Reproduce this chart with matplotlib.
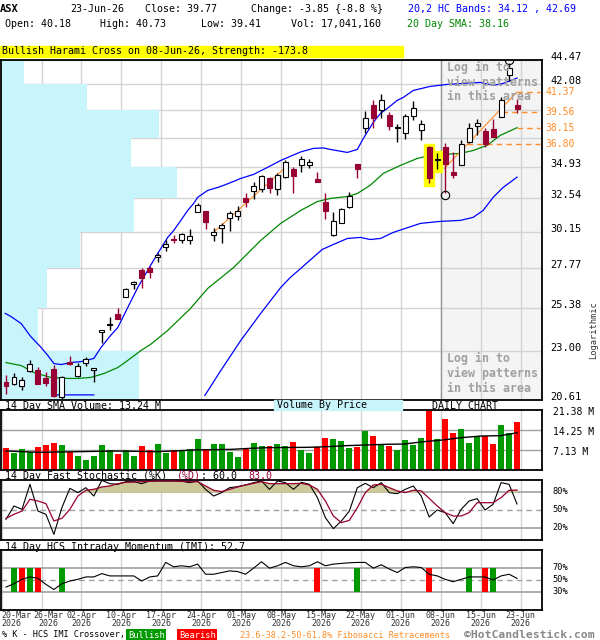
import matplotlib
matplotlib.use("Agg")
import matplotlib.pyplot as plt
import matplotlib.transforms as mtransforms
from matplotlib.patches import Rectangle
import numpy as np

plt.rcParams['font.family'] = ['DejaVu Sans Mono']

# ---------------- data ----------------
opens = [21.49, 21.35, 21.25, 22.03, 22.08, 21.64, 22.13, 20.77, 22.48, 21.78,
         22.43, 22.08, 24.01, 24.42, 25.01, 25.99, 26.77, 27.63, 27.81, 28.51,
         29.10, 29.67, 29.63, 29.63, 31.50, 31.57, 29.90, 30.38, 31.08, 31.22,
         32.51, 33.03, 33.18, 34.02, 33.18, 34.10, 34.72, 35.04, 35.04, 33.94,
         32.22, 29.90, 30.73, 31.86, 35.11, 38.09, 40.13, 39.68, 39.23, 38.14,
         37.66, 39.14, 37.92, 36.49, 35.47, 36.49, 34.48, 35.04, 36.91, 38.27,
         37.84, 38.01, 39.05, 42.95, 40.18]
highs = [21.83, 21.93, 21.69, 22.54, 22.23, 21.98, 22.33, 21.78, 22.79, 22.43,
         22.69, 22.18, 24.17, 24.84, 25.35, 26.58, 26.95, 27.75, 27.88, 28.71,
         29.63, 29.90, 30.04, 30.31, 32.15, 31.57, 30.38, 30.73, 31.57, 31.93,
         32.88, 33.71, 34.25, 34.10, 34.41, 35.43, 34.88, 35.76, 35.51, 34.48,
         32.88, 31.50, 31.79, 32.96, 35.11, 39.59, 40.59, 41.14, 39.50, 38.44,
         39.32, 40.49, 38.79, 36.57, 36.00, 36.82, 36.08, 37.07, 38.53, 38.88,
         38.09, 38.88, 40.86, 44.13, 40.73]
lows = [20.91, 21.30, 21.06, 21.98, 21.35, 21.25, 20.73, 20.59, 22.33, 21.69,
        22.28, 21.49, 23.42, 24.17, 24.78, 25.99, 26.52, 26.58, 27.19, 28.13,
        28.90, 29.37, 29.43, 29.30, 31.50, 30.31, 29.50, 29.37, 30.18, 30.94,
        31.86, 32.44, 32.96, 32.88, 32.74, 34.02, 32.88, 34.48, 34.80, 33.71,
        31.01, 29.84, 30.73, 31.79, 34.02, 37.66, 38.09, 38.96, 37.92, 36.91,
        37.16, 38.79, 37.07, 33.64, 34.72, 32.88, 34.02, 35.04, 36.82, 37.50,
        36.49, 37.33, 39.05, 42.37, 39.41]
closes = [21.25, 21.69, 21.54, 22.38, 21.39, 21.44, 20.82, 21.69, 22.38, 22.28,
          22.59, 22.18, 24.12, 24.50, 24.78, 26.52, 26.89, 27.19, 27.56, 28.58,
          29.30, 29.60, 29.97, 29.84, 32.00, 30.80, 30.11, 30.59, 31.43, 31.57,
          32.22, 33.41, 34.17, 33.26, 34.25, 35.27, 34.17, 35.51, 35.27, 33.71,
          31.57, 30.87, 31.72, 32.66, 34.72, 38.96, 38.96, 40.59, 38.27, 38.18,
          39.14, 39.86, 38.44, 34.02, 35.51, 35.11, 34.25, 36.74, 38.09, 38.53,
          36.74, 37.33, 40.59, 43.63, 39.77]
volumes = [7.95, 6.17, 7.48, 6.29, 8.31, 8.91, 9.62, 8.91, 6.53, 4.99,
           3.56, 4.99, 8.91, 7.01, 5.70, 7.01, 4.99, 8.55, 7.13, 9.26,
           6.17, 7.13, 7.13, 7.48, 11.05, 7.36, 9.26, 9.26, 6.53, 4.75,
           7.72, 9.62, 8.55, 8.55, 9.26, 8.55, 9.98, 7.01, 6.17, 8.08,
           11.40, 11.05, 10.33, 7.95, 8.31, 14.01, 12.11, 8.91, 8.55, 7.01,
           10.69, 8.91, 11.40, 21.13, 11.05, 18.17, 13.18, 14.61, 9.62, 12.11,
           12.11, 9.26, 16.03, 13.06, 17.04]
vol_sma_x = [0, 4.2, 9, 13.8, 18.6, 21, 23.4, 28.2, 30.6, 33, 37.8, 40.2, 42.6,
             47.5, 49.9, 52.3, 54.7, 57, 59.5, 61.9, 64]
vol_sma_v = [6.77, 6.30, 6.53, 6.77, 6.53, 6.77, 7.13, 7.36, 7.72, 7.96, 8.08,
             8.31, 8.67, 9.15, 9.26, 10.09, 10.69, 11.52, 12.11, 12.23, 13.24]

upper_x = [-0.1, 0.6, 1.9, 3.1, 4.4, 5.25, 6, 6.9, 8.1, 9.4, 11, 11.9, 13.1, 14,
           15.25, 16.5, 18.1, 19, 20.25, 21, 21.9, 22.75, 23.5, 24, 25.25, 26.5,
           27.25, 28.5, 29.4, 31, 32.75, 34.4, 35.6, 36.9, 38.5, 39.75, 40.6,
           42.75, 44, 44.75, 46, 46.9, 47.75, 49, 49.75, 51, 53.1, 55.25, 57.25,
           59.4, 61, 62.25, 64]
upper_v = [25.07, 24.90, 24.50, 23.79, 23.21, 22.79, 22.38, 22.33, 22.43, 22.48,
           22.64, 23.21, 23.85, 24.28, 25.41, 26.58, 27.94, 28.71, 29.77, 30.24,
           30.94, 31.64, 32.15, 32.59, 33.11, 33.33, 33.49, 33.79, 34.02, 34.33,
           34.88, 35.43, 35.76, 36.12, 36.41, 36.45, 36.33, 36.08, 36.33, 37.24,
           38.62, 39.41, 39.86, 40.59, 40.86, 41.51, 41.89, 42.08, 42.17, 42.27,
           41.99, 42.17, 42.69]
lower_x = [6, 11, 11.5, 24.9, 26.9, 29.4, 31.9, 34.4, 35.6, 36.9, 39.6, 41, 42.75,
           44.4, 45.6, 46.9, 48.5, 51.9, 54.4, 56.9, 58.5, 59.75, 61, 62.25, 64]
lower_v = [20.85, 20.85, np.nan, 20.82, 22.03, 23.58, 25.07, 26.58, 27.19, 27.75,
           28.97, 29.30, 29.70, 29.77, 29.63, 29.70, 30.11, 30.73, 30.87, 30.94,
           31.15, 31.64, 32.59, 33.33, 34.12]
sma_x = [0, 1.9, 3.5, 5.6, 7.75, 9, 10.6, 12.25, 14, 15.25, 16.9, 18.1, 20.25,
         23.1, 25.25, 28.5, 31.9, 34.4, 36.9, 39, 40.6, 42.75, 44, 45.6, 47.25,
         49.4, 51.5, 53.1, 54.75, 56.9, 58.5, 60.25, 61.9, 64]
sma_v = [22.43, 22.28, 21.93, 21.69, 21.64, 21.64, 21.69, 21.88, 22.18, 22.54,
         23.05, 23.37, 24.12, 25.35, 26.52, 27.81, 29.57, 30.73, 31.64, 32.29,
         32.51, 32.66, 32.88, 33.49, 34.41, 35.04, 35.59, 35.84, 35.92, 36.00,
         36.24, 36.66, 37.50, 38.16]

trend_lines = [((26, 30.11), (35, 34.88)), ((54.9, 34.80), (64, 41.37))]
fib_levels = [41.37, 39.56, 38.15, 36.80]
fib_start = [64, 62.1, 64, 57.75]

price_levels = [20.61, 23.00, 25.38, 27.77, 30.15, 32.54, 34.93, 37.31, 39.70, 42.08, 44.47]
price_labels = [44.47, 42.08, 34.93, 32.54, 30.15, 27.77, 25.38, 23.00, 20.61]
vbp_volume = [82.8, 22.2, 27.6, 47.4, 79.8, 105.6, 78.0, 94.8, 51.6, 13.8]  # bottom band first

pattern_idx = [53, 54]
circle_low_idx = 55
circle_high_idx = 63

stoch_k = [34.4, 56.7, 51.1, 92.8, 48.3, 42.8, 9.4, 53.9, 86.1, 78.9,
           87.2, 73.3, 99.4, 93.9, 92.8, 97.2, 97.2, 93.9, 98.3, 98.3,
           98.3, 98.3, 98.0, 95.6, 98.3, 84.4, 73.3, 78.9, 87.2, 88.9,
           91.7, 95.6, 98.3, 84.4, 98.3, 95.6, 84.4, 96.1, 92.8, 70.6,
           37.2, 18.9, 31.7, 48.3, 87.2, 94.4, 87.2, 95.6, 78.9, 77.2,
           84.4, 90.0, 73.3, 38.3, 50.0, 45.6, 27.2, 51.1, 65.0, 68.9,
           50.0, 59.4, 95.6, 92.8, 60.0]
stoch_d = [36.1, 42.8, 48.3, 67.8, 65.0, 60.6, 31.7, 36.1, 51.1, 73.3,
           82.8, 84.4, 88.3, 90.0, 93.9, 96.1, 96.7, 97.2, 97.8, 98.3,
           98.3, 98.3, 97.8, 97.2, 97.2, 90.0, 82.8, 80.6, 84.4, 88.3,
           91.7, 94.4, 97.2, 93.9, 93.9, 93.9, 93.9, 94.4, 91.7, 84.4,
           65.0, 40.0, 28.9, 32.8, 53.9, 78.9, 91.7, 92.8, 87.2, 81.7,
           78.9, 82.8, 81.7, 69.4, 56.7, 45.6, 40.0, 40.0, 45.6, 62.2,
           62.2, 62.2, 70.6, 82.8, 83.0]
imi = [38.2, 43.8, 51.1, 55.1, 52.8, 42.7, 34.2, 43.8, 48.3, 51.1,
       55.1, 55.1, 60.7, 56.8, 56.8, 56.8, 56.8, 48.3, 55.1, 56.8,
       79.3, 72.0, 73.7, 72.0, 76.5, 59.6, 59.6, 62.4, 65.2, 64.1,
       59.6, 69.7, 80.4, 69.7, 73.7, 79.3, 73.7, 72.0, 73.7, 80.4,
       73.7, 76.5, 77.6, 78.7, 79.3, 79.3, 69.7, 75.4, 68.3, 62.4,
       70.8, 72.0, 70.8, 59.6, 56.8, 51.1, 47.2, 51.1, 55.1, 55.1,
       55.1, 50.0, 56.8, 59.6, 52.7]
bull_cross = [1, 3, 7, 44, 58, 61]
bear_cross = [2, 4, 39, 53, 60]

tick_pos = [-0.55, 4.45, 9.45, 14.45, 19.45, 24.45, 29.45, 34.45, 39.45,
            44.45, 49.45, 54.45, 59.45, 64.45]
tick_labels = ['20-Mar', '26-Mar', '02-Apr', '10-Apr', '17-Apr', '24-Apr', '01-May',
               '08-May', '15-May', '22-May', '01-Jun', '08-Jun', '15-Jun', '23-Jun']

# ---------------- figure ----------------
W, H = 600, 640
fig = plt.figure(figsize=(6, 6.4), dpi=100)


def box(x0, y0, x1, y1):
    return [x0 / W, 1 - y1 / H, (x1 - x0) / W, (y1 - y0) / H]


def ftext(x, y, s, **kw):
    kw.setdefault('fontsize', 7.2)
    kw.setdefault('va', 'center')
    fig.text(x / W, 1 - y / H, s, **kw)


ax = fig.add_axes(box(1, 60, 542, 400))
ax_vol = fig.add_axes(box(1, 410, 542, 470))
ax_sto = fig.add_axes(box(1, 480, 542, 540))
ax_imi = fig.add_axes(box(1, 550, 542, 610))

xmin, xmax = -0.625, 67.125
LIGHT = '#d3d3d3'
MID = '#a0a0a0'
MAROON = '#990033'
ORANGE = '#ff8c26'

for a in (ax, ax_vol, ax_sto, ax_imi):
    a.set_xlim(xmin, xmax)
    for s in a.spines.values():
        s.set_linewidth(1.3)
    for p in tick_pos:
        a.axvline(p, color=LIGHT, lw=1, zorder=0.5)

idx = np.arange(len(opens))
o, hi, lo, c = map(np.array, (opens, highs, lows, closes))
up = c >= o

# ---- price panel ----
ax.set_yscale('log')
ax.set_ylim(price_levels[0], price_levels[-1])
ax.axvspan(tick_pos[11], xmax, color='#f4f4f4', zorder=0)
ax.axvline(tick_pos[11], color='#999999', lw=1, zorder=0.6)
for lv in price_levels:
    ax.axhline(lv, color=LIGHT, lw=1, zorder=0.5)

scale = 0.325 * (xmax - xmin) / max(vbp_volume)
edges = np.array(price_levels)
ax.barh(edges[:-1], np.array(vbp_volume) * scale, height=np.diff(edges), left=xmin,
        align='edge', color='#c8f4fc', zorder=0.7)

for i in pattern_idx:
    ax.add_patch(Rectangle((i - 0.6, lo[i] * 0.994), 1.2, hi[i] * 1.006 - lo[i] * 0.994,
                           color='#ffff00', zorder=2.5))

ax.plot(upper_x, upper_v, color='#0000ff', lw=0.9, zorder=2)
ax.plot(lower_x, lower_v, color='#0000ff', lw=0.9, zorder=2)
ax.plot(sma_x, sma_v, color='#008800', lw=0.9, zorder=2)
for (x0, y0), (x1, y1) in trend_lines:
    ax.plot([x0, x1], [y0, y1], color=ORANGE, lw=0.8, zorder=2)
for lv, xs in zip(fib_levels, fib_start):
    ax.plot([xs, tick_pos[-1] + 2.45], [lv, lv], color=ORANGE, lw=1, ls=(0, (4, 3)), zorder=2)

edge = np.where(up, 'black', MAROON)
ax.vlines(idx, lo, hi, colors=edge, lw=1, zorder=3)
ax.bar(idx, np.abs(c - o), 0.62, bottom=np.minimum(o, c),
       color=np.where(up, 'white', MAROON), edgecolor=edge, lw=0.8, zorder=4)

lo_tr = mtransforms.offset_copy(ax.transData, fig=fig, y=-2, units='dots')
hi_tr = mtransforms.offset_copy(ax.transData, fig=fig, y=3, units='dots')
ax.plot(circle_low_idx, lows[circle_low_idx], 'o', ms=6, mfc='none', mec='black',
        mew=0.8, transform=lo_tr, zorder=5)
ax.plot(circle_high_idx, highs[circle_high_idx], 'o', ms=6, mfc='none', mec='black',
        mew=0.8, transform=hi_tr, zorder=5)

ax.set_yticks([])
ax.set_yticks([], minor=True)
ax.set_xticks([])

lab_tr = mtransforms.offset_copy(ax.get_yaxis_transform(), fig=fig, y=3, units='dots')
for lv in price_labels:
    ax.text(1.015, lv, f'{lv:.2f}', transform=lab_tr, fontsize=7.5, va='center',
            clip_on=False)
for lv in fib_levels:
    ax.text(1.006, lv, f'{lv:.2f}', transform=ax.get_yaxis_transform(), fontsize=7,
            color=ORANGE, va='center', clip_on=False)

for y0 in (67, 358):
    for j, line in enumerate(['Log in to', 'view patterns', 'in this area']):
        ftext(447, y0 + 15 * j, line, fontsize=8.4, weight='bold', color=MID)

# ---- volume panel ----
ax_vol.bar(idx, volumes, 0.75, color=np.where(up, '#009900', '#ff0000'), zorder=2)
ax_vol.plot(vol_sma_x, vol_sma_v, color='black', lw=1, zorder=3)
ax_vol.set_ylim(0, 21.38)
for v in (7.13, 14.25):
    ax_vol.axhline(v, color=MID, lw=1, zorder=0.6)
ax_vol.set_xticks([])
ax_vol.set_yticks([])
vol_tr = mtransforms.offset_copy(ax_vol.get_yaxis_transform(), fig=fig, y=-2, units='dots')
for v in (21.38, 14.25, 7.13):
    ax_vol.text(1.02, v, f'{v:.2f} M', transform=vol_tr, fontsize=7, va='center',
                clip_on=False)

# ---- stochastic panel ----
k_arr, d_arr = np.array(stoch_k), np.array(stoch_d)
ax_sto.fill_between(idx, 80, d_arr, where=d_arr >= 80, interpolate=True,
                    color='#ccc899', zorder=1)
ax_sto.plot(idx, k_arr, color='black', lw=0.8, zorder=3)
ax_sto.plot(idx, d_arr, color=MAROON, lw=0.9, zorder=3)
ax_sto.set_ylim(0, 100)
for v in (80, 20):
    ax_sto.axhline(v, color=MID, lw=1.2, zorder=0.6)
ax_sto.axhline(50, color=MID, lw=1, ls=(0, (4, 3)), zorder=0.6)
ax_sto.set_xticks([])
ax_sto.set_yticks([])
for v in (80, 50, 20):
    ax_sto.text(1.02, v, f'{v}%', transform=ax_sto.get_yaxis_transform(), fontsize=6.2,
                va='center', clip_on=False)

# ---- IMI panel ----
ax_imi.plot(idx, imi, color='black', lw=0.8, zorder=3)
ax_imi.bar(bull_cross, 40, 0.75, bottom=30, color='#009900', zorder=2)
ax_imi.bar(bear_cross, 40, 0.75, bottom=30, color='#ff0000', zorder=2)
ax_imi.set_ylim(0, 100)
for v in (70, 30):
    ax_imi.axhline(v, color=MID, lw=1.2, zorder=0.6)
ax_imi.axhline(50, color=MID, lw=1, ls=(0, (4, 3)), zorder=0.6)
ax_imi.set_xticks([])
ax_imi.set_yticks([])
for v in (70, 50, 30):
    ax_imi.text(1.02, v, f'{v}%', transform=ax_imi.get_yaxis_transform(), fontsize=6.2,
                va='center', clip_on=False)

date_tr = ax_imi.get_xaxis_transform()
for n, (p, lab) in enumerate(zip(tick_pos, tick_labels)):
    tr = date_tr
    ha = 'center'
    if n == 0:
        ha = 'left'
    elif n == 1:
        tr = mtransforms.offset_copy(date_tr, fig=fig, x=7, units='dots')
    ax_imi.text(p, -0.015, lab + '\n2026', transform=tr, ha=ha, va='top', fontsize=6.0,
                linespacing=0.9, color='#333333', clip_on=False)

# ---------------- header and captions ----------------
ftext(0, 9, 'ASX', weight='bold', fontsize=7.5)
ftext(70, 9, '23-Jun-26')
ftext(145, 9, 'Close: 39.77')
ftext(251, 9, 'Change: -3.85 {-8.8 %}')
ftext(408, 9, '20,2 HC Bands: 34.12 , 42.69', color='#0000ff')
ftext(5, 24, 'Open: 40.18')
ftext(100, 24, 'High: 40.73')
ftext(201, 24, 'Low: 39.41')
ftext(291, 24, 'Vol: 17,041,160')
ftext(407, 24, '20 Day SMA: 38.16', color='#008800')

fig.patches.append(Rectangle((0, 1 - 57 / H), 403 / W, 11 / H, transform=fig.transFigure,
                             color='#ffff00', zorder=0))
ftext(2, 51.5, 'Bullish Harami Cross on 08-Jun-26, Strength: -173.8')

ftext(594, 330, 'Logarithmic', rotation=90, ha='center', fontsize=6.3, color='#333333')

fig.patches.append(Rectangle((274 / W, 1 - 410 / H), 128 / W, 10 / H,
                             transform=fig.transFigure, color='#c8f4fc', zorder=0))
ftext(5, 406, '14 Day SMA Volume: 13.24 M')
ftext(277, 405.5, 'Volume By Price')
ftext(432, 406, 'DAILY CHART')

ftext(5, 476, '14 Day Fast Stochastic (%K)')
ftext(177, 476, '(%D)', color=MAROON)
ftext(201, 476, ': 60.0')
ftext(248, 476, '83.0', color=MAROON)

ftext(5, 546.5, '14 Day HCS Intraday Momentum (IMI): 52.7')

ftext(2, 635, '% K - HCS IMI Crossover,', fontsize=6.1)
ftext(128, 635, 'Bullish', fontsize=6.3, color='white',
      bbox=dict(boxstyle='square,pad=0.18', fc='#009900', ec='none'))
ftext(179, 635, 'Bearish', fontsize=6.3, color='white',
      bbox=dict(boxstyle='square,pad=0.18', fc='#ff0000', ec='none'))
ftext(240, 635, '23.6-38.2-50-61.8% Fibonacci Retracements', fontsize=6.1, color=ORANGE)
ftext(464, 635, '©HotCandlestick.com', fontsize=8.2, weight='bold', color='#888888')

fig.savefig('out.png', dpi=100)
